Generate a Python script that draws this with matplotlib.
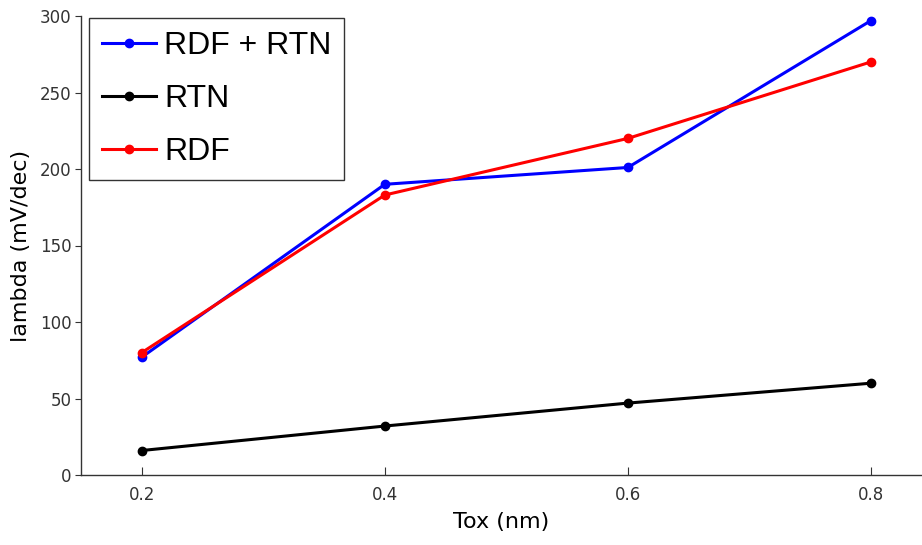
import matplotlib
matplotlib.use('Agg')
import matplotlib.pyplot as plt

tox = [0.2, 0.4, 0.6, 0.8]
rdf_rtn = [77, 190, 201, 297]
rtn = [16, 32, 47, 60]
rdf = [80, 183, 220, 270]
yticks = [0, 50, 100, 150, 200, 250, 300]
xticks = [0.2, 0.4, 0.6, 0.8]

plt.rcParams['font.family'] = ['Liberation Sans', 'DejaVu Sans']

fig = plt.figure(figsize=(9.22, 5.45), dpi=100)
ax = fig.add_axes([81/922, 70/545, 1 - 81/922, (475-16)/545])

ax.plot(tox, rdf_rtn, color='#0000ff', lw=2.2, marker='o', ms=6, label='RDF + RTN')
ax.plot(tox, rtn, color='black', lw=2.2, marker='o', ms=6, label='RTN')
ax.plot(tox, rdf, color='#ff0000', lw=2.2, marker='o', ms=6, label='RDF')

ax.set_xlim(0.15, 0.842)
ax.set_ylim(0, 300)
ax.set_xticks(xticks)
ax.set_xticklabels(['0.2', '0.4', '0.6', '0.8'])
ax.set_yticks(yticks)
ax.spines['top'].set_visible(False)
ax.spines['right'].set_visible(False)
for s in ['left', 'bottom']:
    ax.spines[s].set_color('#333333')
    ax.spines[s].set_linewidth(1.0)
ax.tick_params(axis='x', direction='in', length=6, labelsize=12, colors='#333333', pad=8)
ax.tick_params(axis='y', direction='out', length=4, labelsize=12, colors='#333333', pad=3)
for lab in ax.get_xticklabels() + ax.get_yticklabels():
    lab.set_family('DejaVu Sans')

ax.set_xlabel('Tox (nm)', fontsize=16, family='DejaVu Sans', labelpad=6)
ax.set_ylabel('lambda (mV/dec)', fontsize=16, family='DejaVu Sans', labelpad=6)

leg = ax.legend(loc='upper left', bbox_to_anchor=(8/841, 1 - 2/459), fontsize=23,
                frameon=True, fancybox=False, handlelength=1.7, handletextpad=0.25,
                borderpad=0.4, labelspacing=0.72, borderaxespad=0)
leg.get_frame().set_edgecolor('black')
leg.get_frame().set_linewidth(1.0)

fig.savefig('out.png', dpi=100)
